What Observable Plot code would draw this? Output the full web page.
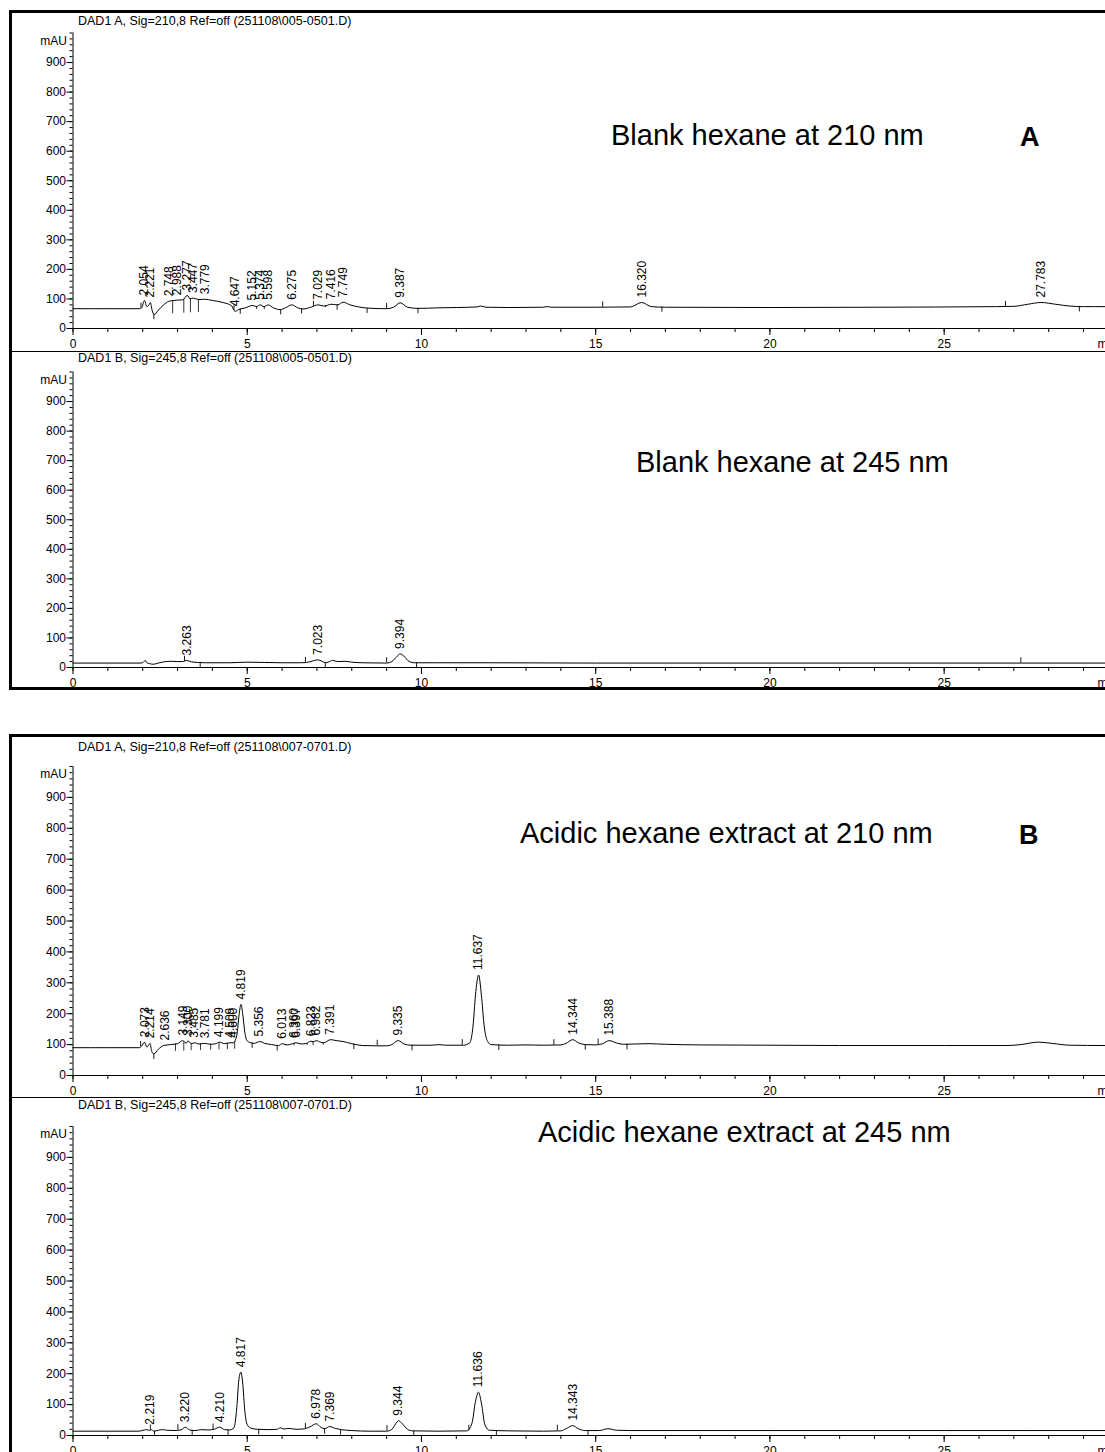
<!DOCTYPE html>
<html><head><meta charset="utf-8">
<script src="https://cdn.jsdelivr.net/npm/d3@7"></script>
<script src="https://cdn.jsdelivr.net/npm/@observablehq/plot@0.6"></script>
<style>
html,body{margin:0;padding:0;background:#fff;}
#page{position:relative;width:1105px;height:1452px;overflow:hidden;font-family:"Liberation Sans",Arial,sans-serif;color:#000;}
#page svg{position:absolute;left:0;}
.box{position:absolute;border:3px solid #000;box-sizing:border-box;}
.sep{position:absolute;height:1px;background:#000;}
.ptitle{position:absolute;font-size:12.5px;line-height:1;white-space:nowrap;}
.big{position:absolute;font-size:29px;line-height:1;white-space:nowrap;}
.letter{position:absolute;font-size:27px;font-weight:bold;line-height:1;}
</style></head><body><div id="page"></div>
<script>
// ---------- tick values ----------
const xMajorTicks = [0, 5, 10, 15, 20, 25];
const xMinorTicks = [0,1,2,3,4,5,6,7,8,9,10,11,12,13,14,15,16,17,18,19,20,21,22,23,24,25,26,27,28,29];
const yMajorTicks = [0, 100, 200, 300, 400, 500, 600, 700, 800, 900];
const yMinorTicks = [0,20,40,60,80,100,120,140,160,180,200,220,240,260,280,300,320,340,360,380,400,420,440,460,480,500,520,540,560,580,600,620,640,660,680,700,720,740,760,780,800,820,840,860,880,900,920,940,960,980,1000];

// ---------- panel texts ----------
const panelTitles = [
  "DAD1 A, Sig=210,8 Ref=off (251108\\005-0501.D)",
  "DAD1 B, Sig=245,8 Ref=off (251108\\005-0501.D)",
  "DAD1 A, Sig=210,8 Ref=off (251108\\007-0701.D)",
  "DAD1 B, Sig=245,8 Ref=off (251108\\007-0701.D)"
];
const sampleNames = [
  "Blank hexane at 210 nm",
  "Blank hexane at 245 nm",
  "Acidic hexane extract at 210 nm",
  "Acidic hexane extract at 245 nm"
];
const blockLetters = ["A", "B"];

// ---------- signals [time (min), mAU] ----------
const sigA210 = [[0,67],[1,67],[1.9,67],[1.97,70],[2.05,95],[2.12,74],[2.18,80],[2.22,88],[2.27,62],[2.33,47],[2.45,62],[2.6,80],[2.75,92],[2.9,95],[2.99,96],[3.15,97],[3.28,112],[3.36,100],[3.45,103],[3.6,98],[3.78,99],[4.0,95],[4.3,88],[4.55,77],[4.65,58],[4.75,64],[4.95,70],[5.15,78],[5.27,74],[5.37,80],[5.48,74],[5.6,80],[5.75,70],[5.95,64],[6.1,70],[6.28,80],[6.45,70],[6.6,66],[6.85,73],[7.03,80],[7.2,76],[7.42,82],[7.6,80],[7.75,89],[7.95,80],[8.2,73],[8.45,69],[9.0,67],[9.2,72],[9.39,87],[9.6,72],[9.9,68],[10.5,70],[11.0,71],[11.6,73],[11.7,76],[11.85,72],[12.5,71],[13.5,72],[13.6,74],[13.75,72],[15.0,72],[16.0,73],[16.32,88],[16.6,74],[17.0,72],[20,71],[23,72],[26.5,74],[27.0,75],[27.4,82],[27.78,88],[28.2,82],[28.6,76],[29.0,74],[29.63,74]];
const sigB245 = [[0,15],[1.95,15],[2.02,18],[2.07,24],[2.12,16],[2.2,13],[2.3,11],[2.45,15],[2.6,19],[2.8,21],[3.0,20],[3.15,20],[3.26,24],[3.4,19],[3.6,17],[3.8,16],[4.5,16],[5.0,18],[5.5,17],[6.0,16],[6.5,16],[6.7,17],[6.9,23],[7.02,26],[7.15,21],[7.25,16],[7.32,18],[7.45,24],[7.6,20],[7.8,21],[8.0,18],[8.3,16],[9.0,15],[9.15,20],[9.3,38],[9.39,46],[9.5,38],[9.65,20],[9.8,16],[10.5,16],[12,16],[15,15],[20,15],[25,15],[29.63,15]];
const sigC210 = [[0,90],[1,90],[1.9,90],[1.97,95],[2.05,108],[2.12,92],[2.18,100],[2.21,104],[2.26,78],[2.32,70],[2.45,85],[2.6,97],[2.8,100],[3.0,103],[3.15,113],[3.25,104],[3.3,112],[3.4,103],[3.49,106],[3.6,102],[3.78,104],[3.95,101],[4.1,103],[4.2,108],[4.35,103],[4.51,106],[4.6,106],[4.7,130],[4.77,200],[4.82,230],[4.87,200],[4.93,140],[5.0,112],[5.1,106],[5.2,104],[5.36,110],[5.5,104],[5.7,100],[5.9,97],[6.01,103],[6.15,99],[6.36,105],[6.4,106],[6.55,102],[6.7,104],[6.82,111],[6.9,109],[6.98,113],[7.1,108],[7.2,106],[7.39,116],[7.55,113],[7.75,110],[8.0,103],[8.3,97],[8.7,96],[9.0,96],[9.15,100],[9.33,113],[9.5,102],[9.7,98],[10.3,98],[10.5,100],[10.7,98],[11.2,98],[11.38,105],[11.48,160],[11.55,260],[11.64,325],[11.72,260],[11.8,160],[11.9,110],[12.0,100],[12.5,98],[13.0,99],[13.5,98],[14.0,99],[14.15,104],[14.34,116],[14.5,106],[14.7,100],[15.0,99],[15.2,103],[15.39,113],[15.6,105],[15.8,101],[16.5,103],[17.0,101],[18,99],[20,98],[22,97],[25,97],[26.8,97],[27.2,100],[27.7,108],[28.1,104],[28.6,98],[29.63,97]];
const sigD245 = [[0,14],[1.9,14],[2.05,18],[2.12,19],[2.2,16],[2.24,19],[2.32,14],[2.45,17],[2.56,19],[2.7,17],[2.9,16],[3.1,18],[3.22,27],[3.35,18],[3.5,16],[3.7,19],[3.9,18],[4.05,20],[4.21,27],[4.35,19],[4.5,18],[4.62,25],[4.7,90],[4.76,180],[4.817,205],[4.87,170],[4.93,80],[5.0,35],[5.1,24],[5.3,20],[5.6,19],[5.85,20],[5.95,25],[6.05,21],[6.2,23],[6.4,20],[6.6,21],[6.8,28],[6.98,38],[7.12,26],[7.22,22],[7.37,29],[7.5,24],[7.7,19],[8.0,16],[8.5,14],[9.0,14],[9.15,20],[9.3,44],[9.344,48],[9.45,38],[9.6,20],[9.75,15],[10.5,14],[11.3,15],[11.45,40],[11.55,110],[11.636,140],[11.72,105],[11.82,35],[11.95,17],[12.5,15],[13.5,14],[14.0,15],[14.15,22],[14.343,32],[14.5,22],[14.7,16],[15.1,16],[15.35,22],[15.6,17],[16,16],[20,16],[25,16],[29.63,16]];

// ---------- peak labels [retention time, apex mAU] ----------
const lblA210 = [[2.054,95],[2.221,88],[2.748,92],[2.988,96],[3.277,112],[3.447,103],[3.779,99],[4.647,58],[5.152,78],[5.374,80],[5.598,80],[6.275,80],[7.029,80],[7.416,82],[7.749,89],[9.387,87],[16.320,88],[27.783,88]];
const lblB245 = [[3.263,24],[7.023,26],[9.394,46]];
const lblC210 = [[2.073,108],[2.214,104],[2.636,97],[3.149,113],[3.300,112],[3.485,106],[3.781,104],[4.199,108],[4.509,106],[4.600,106],[4.819,230],[5.356,110],[6.013,103],[6.360,105],[6.397,106],[6.823,111],[6.982,113],[7.391,116],[9.335,113],[11.637,325],[14.344,116],[15.388,113]];
const lblD245 = [[2.219,19],[3.220,27],[4.210,27],[4.817,205],[6.978,38],[7.369,29],[9.344,48],[11.636,140],[14.343,32]];

// ---------- integration event marks [time, mAU, direction] ----------
const evA210 = [[1.95,68,1],[2.32,48,-1],[4.62,62,1],[4.8,66,-1],[5.96,64,-1],[6.56,67,-1],[6.9,74,1],[7.58,80,-1],[8.44,69,-1],[9.0,67,1],[9.9,68,-1],[15.2,72,1],[16.9,73,-1],[26.76,74,1],[28.88,74,-1]];
const evB245 = [[3.2,20,1],[3.65,17,-1],[6.67,16,1],[7.24,16,-1],[9.0,15,1],[9.86,16,-1],[27.2,15,1]];
const evC210 = [[1.94,92,1],[2.32,70,-1],[5.14,106,-1],[5.86,97,-1],[8.06,102,-1],[8.73,96,1],[9.73,98,-1],[11.17,98,1],[12.22,99,-1],[13.8,98,1],[14.7,100,-1],[15.07,100,1],[15.9,101,-1]];
const evD245 = [[2.22,16,1],[2.34,14,-1],[3.01,17,1],[3.42,17,-1],[4.02,19,1],[4.45,18,-1],[5.33,20,-1],[6.67,21,1],[7.22,22,-1],[7.68,19,-1],[9.01,14,1],[9.78,15,-1],[11.36,15,1],[12.15,15,-1],[13.9,15,1],[14.78,16,-1]];

// ---------- drop lines [time, signal mAU, baseline mAU] ----------
const dropA210 = [[2.86,94,50],[3.18,98,52],[3.37,102,53],[3.6,98,54],[5.27,74,64],[5.49,74,64],[7.25,77,70]];
const dropB245 = [];
const dropC210 = [[2.94,102,78],[3.18,108,79],[3.39,104,80],[3.66,102,81],[3.95,101,82],[4.19,106,83],[4.43,104,84],[4.64,110,85],[6.1,100,96],[6.34,104,96],[6.72,104,97],[6.89,110,97],[7.18,106,98]];
const dropD245 = [];

// ---------- layout ----------
const FONT = '"Liberation Sans", Arial, sans-serif';
const X_MAX = 29.63;
const panels = [
  {top: 0,    height: 351, mt: 32.5, mb: 23, signal: sigA210, labels: lblA210, events: evA210, drops: dropA210, titleTop: 14.5},
  {top: 351,  height: 339, mt: 20.5, mb: 23, signal: sigB245, labels: lblB245, events: evB245, drops: dropB245, titleTop: 351.5},
  {top: 690,  height: 407, mt: 76,   mb: 22, signal: sigC210, labels: lblC210, events: evC210, drops: dropC210, titleTop: 740.5},
  {top: 1097, height: 355, mt: 29,   mb: 17, signal: sigD245, labels: lblD245, events: evD245, drops: dropD245, titleTop: 1098.5}
];
const page = document.getElementById("page");

panels.forEach((cfg, i) => {
  const p = Plot.plot({
    width: 1105, height: cfg.height,
    marginLeft: 72.5, marginRight: 0, marginTop: cfg.mt, marginBottom: cfg.mb,
    x: {domain: [0, X_MAX], label: null},
    y: {domain: [0, 1000], label: null},
    style: {background: "none", fontFamily: FONT, fontSize: "12px", color: "#000", overflow: "visible"},
    marks: [
      Plot.axisY(yMinorTicks, {tickSize: 3, tickFormat: () => ""}),
      Plot.axisY(yMajorTicks, {tickSize: 6, tickPadding: 1}),
      Plot.axisX(xMinorTicks, {tickSize: 4, tickFormat: () => ""}),
      Plot.axisX(xMajorTicks, {tickSize: 7, tickPadding: 4}),
      Plot.ruleY([0], {stroke: "#000"}),
      Plot.ruleX([0], {stroke: "#000"}),
      Plot.ruleX(cfg.drops, {x: d => d[0], y1: d => d[1], y2: d => d[2], stroke: "#000", strokeWidth: 0.8}),
      Plot.ruleX(cfg.events, {x: d => d[0], y1: d => d[1], y2: d => d[1] + d[2] * 18, stroke: "#000", strokeWidth: 0.9}),
      Plot.line(cfg.signal, {x: d => d[0], y: d => d[1], curve: "monotone-x", stroke: "#000", strokeWidth: 1}),
      Plot.text(cfg.labels, {x: d => d[0], y: d => d[1], text: d => d[0].toFixed(3), rotate: -90, textAnchor: "start", dy: -5, fontSize: 12, fill: "#000"}),
      Plot.text(["mAU"], {frameAnchor: "top-left", textAnchor: "end", lineAnchor: "middle", dx: -6, dy: 8, fontSize: 12}),
      Plot.text(["min"], {frameAnchor: "bottom-right", textAnchor: "start", lineAnchor: "top", dx: -8, dy: 11, fontSize: 12})
    ]
  });
  p.style.top = cfg.top + "px";
  page.appendChild(p);

  const t = document.createElement("div");
  t.className = "ptitle";
  t.style.left = "78px";
  t.style.top = cfg.titleTop + "px";
  t.textContent = panelTitles[i];
  page.appendChild(t);
});

// sample name annotations
const namePos = [[611, 120.5], [636, 447.5], [520, 818.5], [538, 1117.5]];
sampleNames.forEach((s, i) => {
  const d = document.createElement("div");
  d.className = "big";
  d.style.left = namePos[i][0] + "px";
  d.style.top = namePos[i][1] + "px";
  d.textContent = s;
  page.appendChild(d);
});
const letterPos = [[1020, 124], [1019, 822]];
blockLetters.forEach((s, i) => {
  const d = document.createElement("div");
  d.className = "letter";
  d.style.left = letterPos[i][0] + "px";
  d.style.top = letterPos[i][1] + "px";
  d.textContent = s;
  page.appendChild(d);
});

// frames and separators
function addDiv(cls, css) {
  const d = document.createElement("div");
  d.className = cls;
  Object.assign(d.style, css);
  page.appendChild(d);
}
addDiv("box", {left: "9px", top: "10px", width: "1200px", height: "680px"});
addDiv("box", {left: "9px", top: "734px", width: "1200px", height: "800px"});
addDiv("sep", {left: "12px", top: "351px", width: "1100px"});
addDiv("sep", {left: "12px", top: "1097px", width: "1100px"});
</script>
</body></html>
